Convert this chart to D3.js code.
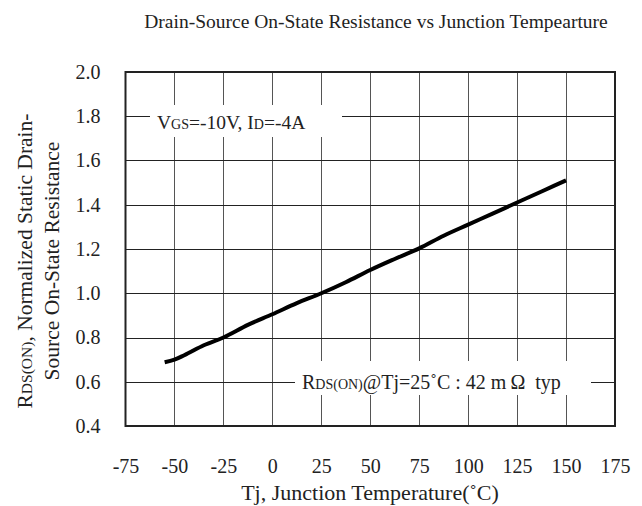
<!DOCTYPE html>
<html>
<head>
<meta charset="utf-8">
<script src="https://cdn.jsdelivr.net/npm/d3@7"></script>
<style>
  body { margin: 0; background: #fff; }
  svg text { font-family: "Liberation Serif", "Times New Roman", serif; fill: #222; }
</style>
</head>
<body>
<div id="container"></div>
<script>
// data
const temps = [-55, -50, -45, -35, -25, -12.5, 0, 12.5, 25, 37.5, 50, 62.5, 75, 87.5, 100, 112.5, 125, 137.5, 150]
const rdsOn = [0.688, 0.70, 0.72, 0.765, 0.80, 0.857, 0.905, 0.955, 1.0, 1.05, 1.105, 1.155, 1.203, 1.26, 1.31, 1.36, 1.41, 1.46, 1.51]
const xTicks = [-75, -50, -25, 0, 25, 50, 75, 100, 125, 150, 175]
const yTicks = [0.4, 0.6, 0.8, 1.0, 1.2, 1.4, 1.6, 1.8, 2.0]

const w = 642
const h = 506
const margin = { left: 125.5, right: 27, top: 72, bottom: 80 }
const serif = '"Liberation Serif", "Times New Roman", serif'

const x = d3.scaleLinear()
  .domain([-75, 175])
  .range([margin.left, w - margin.right])

const y = d3.scaleLinear()
  .domain([0.4, 2.0])
  .range([h - margin.bottom, margin.top])

const svg = d3.select('#container')
  .append('svg')
  .attr('width', w)
  .attr('height', h)
  .attr('font-family', serif)

//GRID
svg.append('g')
  .selectAll('line')
  .data(xTicks.slice(1, -1))
  .join('line')
  .attr('x1', d => Math.round(x(d)) + 0.5)
  .attr('x2', d => Math.round(x(d)) + 0.5)
  .attr('y1', y(2.0))
  .attr('y2', y(0.4))
  .attr('stroke', '#555')
  .attr('stroke-width', 1)

svg.append('g')
  .selectAll('line')
  .data(yTicks.slice(1, -1))
  .join('line')
  .attr('x1', x(-75))
  .attr('x2', x(175))
  .attr('y1', d => Math.round(y(d)) + 0.5)
  .attr('y2', d => Math.round(y(d)) + 0.5)
  .attr('stroke', '#222')
  .attr('stroke-width', 1)

//FRAME
svg.append('rect')
  .attr('x', x(-75))
  .attr('y', y(2.0))
  .attr('width', x(175) - x(-75))
  .attr('height', y(0.4) - y(2.0))
  .attr('fill', 'none')
  .attr('stroke', '#222')
  .attr('stroke-width', 2)

//ANNOTATION BOXES (white behind text cuts the grid)
svg.append('rect')
  .attr('x', 150).attr('y', 105)
  .attr('width', 192).attr('height', 32)
  .attr('fill', '#fff')

svg.append('rect')
  .attr('x', 295).attr('y', 361)
  .attr('width', 296).attr('height', 34)
  .attr('fill', '#fff')

//CURVE
const pts = temps.map((t, i) => [t, rdsOn[i]])
svg.append('path')
  .datum(pts)
  .attr('fill', 'none')
  .attr('stroke', '#000')
  .attr('stroke-width', 4)
  .attr('stroke-linejoin', 'round')
  .attr('d', d3.line()
    .x(d => x(d[0]))
    .y(d => y(d[1]))
    .curve(d3.curveMonotoneX))

//AXIS LABELS
const xAxis = svg.append('g')
  .attr('transform', `translate(0,${h - margin.bottom})`)
  .call(d3.axisBottom(x).tickValues(xTicks).tickSize(0).tickPadding(33).tickFormat(d => String(d)))
  .attr('font-family', serif)
  .attr('font-size', 20)
xAxis.select('.domain').remove()
xAxis.selectAll('text').attr('fill', '#222')

const yAxis = svg.append('g')
  .attr('transform', `translate(${margin.left},0)`)
  .call(d3.axisLeft(y).tickValues(yTicks).tickSize(0).tickPadding(25).tickFormat(d3.format('.1f')))
  .attr('font-family', serif)
  .attr('font-size', 20)
yAxis.select('.domain').remove()
yAxis.selectAll('text').attr('fill', '#222')

//TITLES
svg.append('text')
  .attr('x', 376)
  .attr('y', 28)
  .attr('text-anchor', 'middle')
  .attr('font-size', 19.5)
  .text('Drain-Source On-State Resistance vs Junction Tempearture')

svg.append('text')
  .attr('x', 370)
  .attr('y', 500)
  .attr('text-anchor', 'middle')
  .attr('font-size', 22)
  .text('Tj, Junction Temperature(˚C)')

const yTitle = svg.append('text')
  .attr('transform', 'translate(32,261) rotate(-90)')
  .attr('text-anchor', 'middle')
  .attr('font-size', 21.5)
yTitle.append('tspan').text('R')
yTitle.append('tspan').attr('font-size', 15.5).text('DS(ON)')
yTitle.append('tspan').text(', Normalized Static Drain-')

svg.append('text')
  .attr('transform', 'translate(59,261) rotate(-90)')
  .attr('text-anchor', 'middle')
  .attr('font-size', 21.5)
  .text('Source On-State Resistance')

const note1 = svg.append('text')
  .attr('x', 157)
  .attr('y', 129)
  .attr('font-size', 19.5)
note1.append('tspan').text('V')
note1.append('tspan').attr('font-size', 14).text('GS')
note1.append('tspan').text('=-10V, I')
note1.append('tspan').attr('font-size', 14).text('D')
note1.append('tspan').text('=-4A')

const note2 = svg.append('text')
  .attr('x', 302)
  .attr('y', 389)
  .attr('font-size', 20)
note2.append('tspan').text('R')
note2.append('tspan').attr('font-size', 14).text('DS(ON)')
note2.append('tspan').text('@Tj=25˚C : 42 m\u2009Ω  typ')
  .attr('xml:space', 'preserve')
</script>
</body>
</html>
